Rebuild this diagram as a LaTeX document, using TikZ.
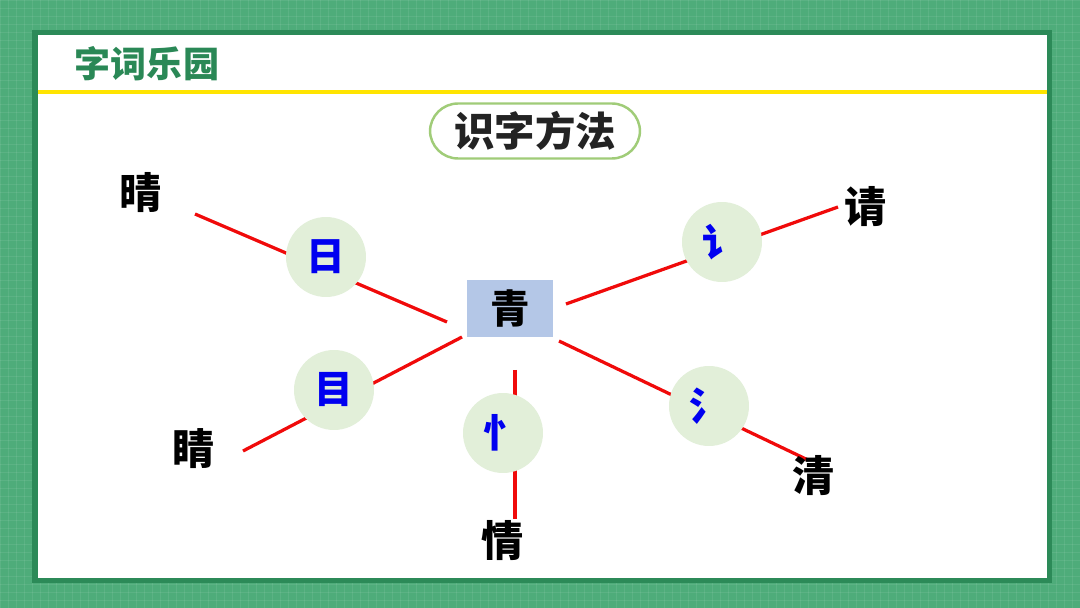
\documentclass[tikz,border=0pt]{standalone}
\usepackage{fontspec}
\newfontfamily\cjk{Noto Sans CJK SC}
\definecolor{bggreen}{RGB}{78,172,122}
\definecolor{darkgreen}{RGB}{44,138,88}
\definecolor{titlegreen}{RGB}{42,136,86}
\definecolor{ylw}{RGB}{255,228,0}
\definecolor{boxblue}{RGB}{180,199,231}
\definecolor{circfill}{RGB}{226,239,217}
\definecolor{pillborder}{RGB}{160,204,120}
\definecolor{linered}{RGB}{240,10,10}
\definecolor{radblue}{RGB}{0,0,240}
\definecolor{darktext}{RGB}{35,35,35}
\tikzset{
  redline/.style={draw=linered, line width=1.85pt},
  radical/.style={circle, fill=circfill, minimum size=1.6cm, inner sep=0pt,
    font=\cjk\bfseries\fontsize{22pt}{22pt}\selectfont, text=radblue},
  word/.style={font=\cjk\bfseries\fontsize{24pt}{24pt}\selectfont, text=black, inner sep=0pt},
}
\begin{document}
\begin{tikzpicture}[x=0.02cm, y=-0.02cm]
\useasboundingbox (0,0) rectangle (1080,608);
% background
\fill[bggreen] (0,0) rectangle (1080,608);
\foreach \i in {0,8,...,1080} {\draw[white, opacity=0.08, line width=0.3pt] (\i,0) -- (\i,608);}
\foreach \j in {0,8,...,608} {\draw[white, opacity=0.08, line width=0.3pt] (0,\j) -- (1080,\j);}
% panel
\fill[darkgreen] (32,30) rectangle (1052,583);
\fill[white] (37.5,35) rectangle (1046.5,578);
% title
\node[font=\cjk\bfseries\fontsize{20.5pt}{20.5pt}\selectfont, text=titlegreen, inner sep=0pt] (title) at (147,64) {字词乐园};
\draw[ylw, line width=2.3pt] (37.5,92) coordinate (yl) -- (1046.5,92) coordinate (yr);
% method pill
\node[draw=pillborder, line width=1.4pt, rounded corners=0.56cm, minimum width=4.2cm, minimum height=1.1cm,
  font=\cjk\bfseries\fontsize{23pt}{23pt}\selectfont, text=darktext] (method) at (535,131) {识字方法};
% coordinates of line ends
\coordinate (a1) at (195,214); \coordinate (a2) at (447,322);
\coordinate (b1) at (243,451); \coordinate (b2) at (462,337);
\coordinate (c1) at (515,370); \coordinate (c2) at (515,519);
\coordinate (d1) at (566,304); \coordinate (d2) at (838,207);
\coordinate (e1) at (559,341); \coordinate (e2) at (808,460);
\draw[redline] (a1) -- (a2);
\draw[redline] (b1) -- (b2);
\draw[redline] (c1) -- (c2);
\draw[redline] (d1) -- (d2);
\draw[redline] (e1) -- (e2);
% center box
\node[fill=boxblue, minimum width=1.72cm, minimum height=1.14cm, inner sep=0pt,
  font=\cjk\bfseries\fontsize{22.5pt}{22.5pt}\selectfont] (qing) at (510,308.5) {青};
% radical circles
\node[radical] (ri) at (326,257) {日};
\node[radical] (mu) at (334,390) {目};
\node[radical] (xin) at (503,433) {忄};
\node[radical] (yan) at (722,242) {讠};
\node[radical] (shui) at (709,406) {氵};
% outer words
\node[word] (w1) at (141,193) {晴};
\node[word] (w2) at (866,207) {请};
\node[word] (w3) at (194,449) {睛};
\node[word] (w4) at (503,541) {情};
\node[word] (w5) at (814,476) {清};
\end{tikzpicture}
\end{document}
